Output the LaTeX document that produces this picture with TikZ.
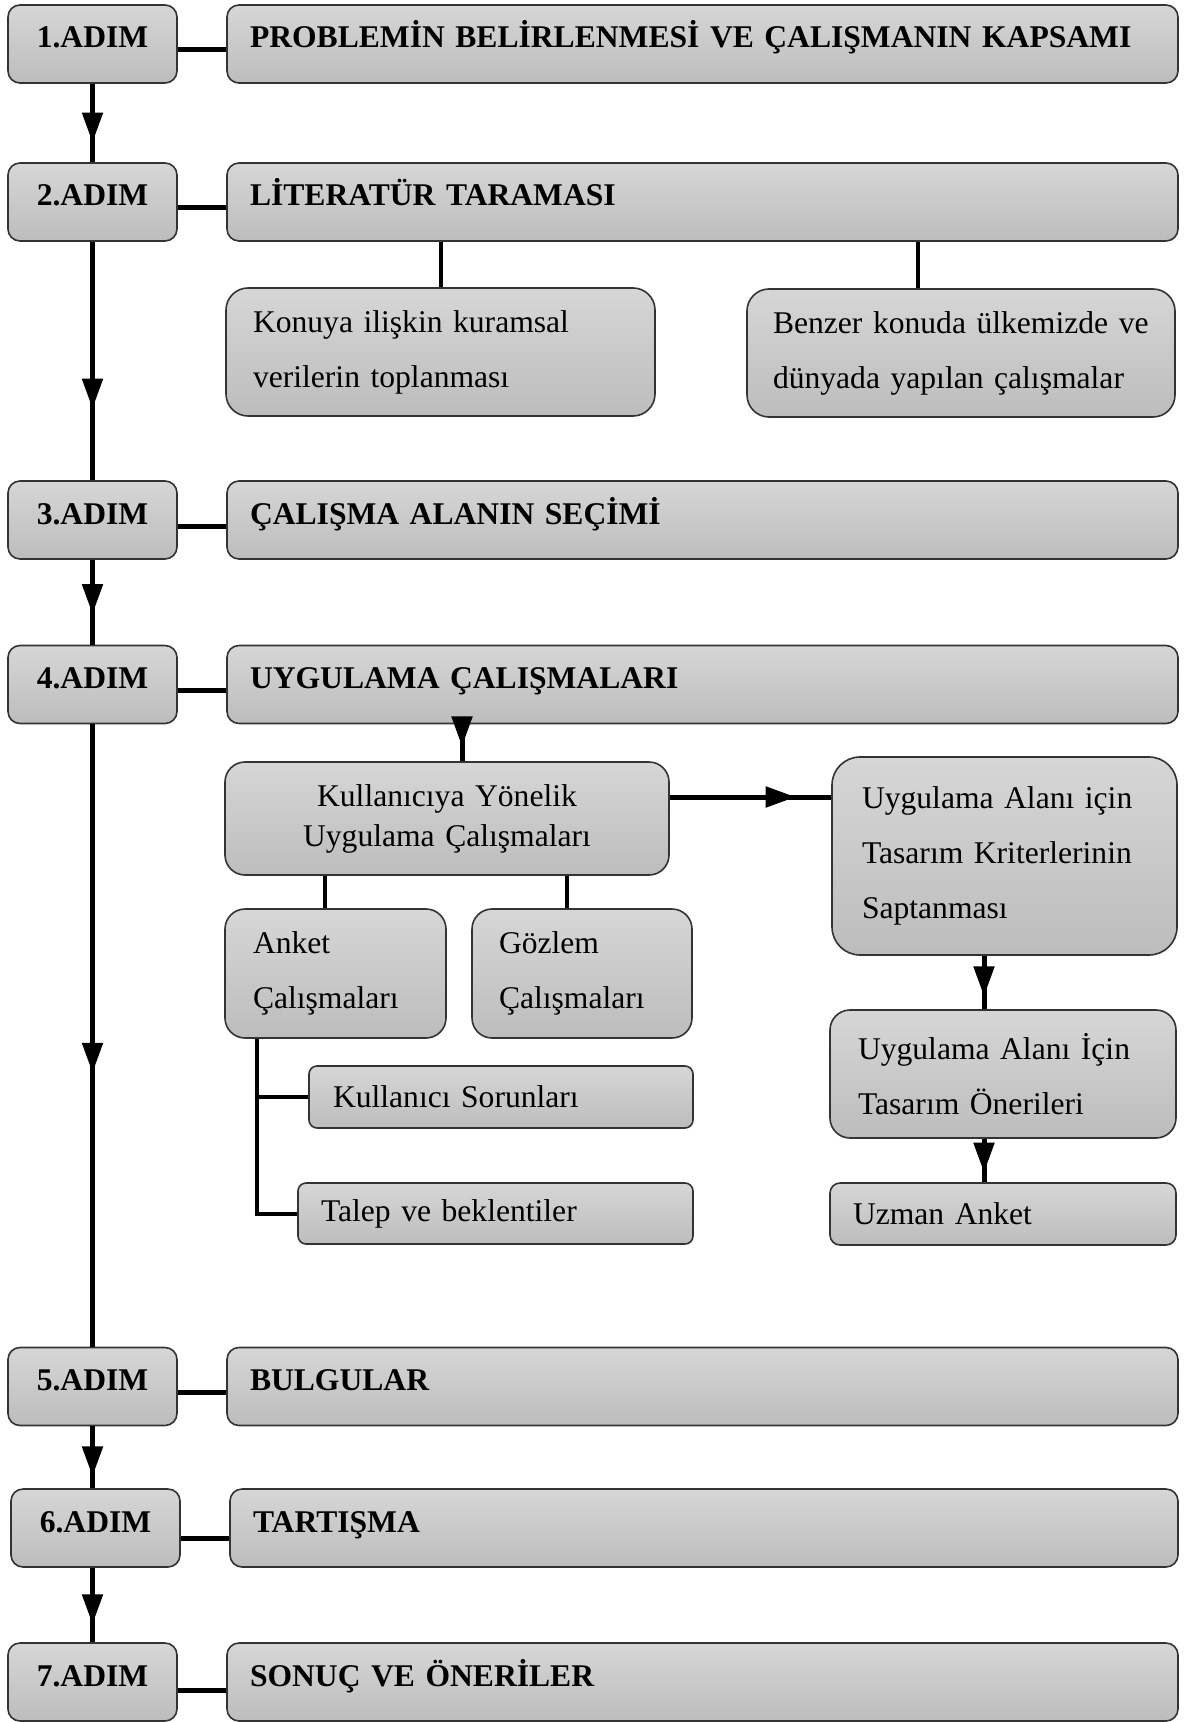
\documentclass[tikz,border=0pt]{standalone}
\usepackage{fontspec}
\setmainfont{Liberation Serif}
\usetikzlibrary{arrows.meta,decorations.markings}

\begin{document}
\begin{tikzpicture}[x=0.5pt, y=-0.5pt,
  every node/.style={font=\fontsize{15.8}{27.5}\selectfont},
  box/.style={draw=black!80, line width=.8pt, top color=gray!32, bottom color=gray!52},
  stepbox/.style={box, rounded corners=6pt, minimum width=84.5pt, minimum height=39pt, font=\fontsize{15.8}{19}\selectfont\bfseries, text height=10pt, text depth=6pt},
  titlebox/.style={stepbox, align=left, inner xsep=11.5pt, text width=452.5pt},
  subbox/.style={box, align=left, inner xsep=13.5pt},
  link/.style={line width=2pt},
  flow/.style={line width=2.5pt, postaction={decorate}, decoration={markings, mark=at position #1 with {\arrow{Triangle[length=15pt, width=10pt]}}}},
  flow/.default=0.7
]
  \useasboundingbox (0,0) rectangle (1184,1722);

  \node[stepbox] (s1) at (92.5,44) {1.ADIM};
  \node[stepbox] (s2) at (92.5,202) {2.ADIM};
  \node[stepbox] (s3) at (92.5,520) {3.ADIM};
  \node[stepbox] (s4) at (92.5,684.5) {4.ADIM};
  \node[stepbox] (s5) at (92.5,1386.5) {5.ADIM};
  \node[stepbox] (s6) at (95.5,1528) {6.ADIM};
  \node[stepbox] (s7) at (92.5,1682) {7.ADIM};

  \node[titlebox] (t1) at (702.5,44) {PROBLEMİN BELİRLENMESİ VE ÇALIŞMANIN KAPSAMI};
  \node[titlebox] (t2) at (702.5,202) {LİTERATÜR TARAMASI};
  \node[titlebox] (t3) at (702.5,520) {ÇALIŞMA ALANIN SEÇİMİ};
  \node[titlebox] (t4) at (702.5,684.5) {UYGULAMA ÇALIŞMALARI};
  \node[titlebox] (t5) at (702.5,1386.5) {BULGULAR};
  \node[titlebox, text width=451pt] (t6) at (704,1528) {TARTIŞMA};
  \node[titlebox] (t7) at (702.5,1682) {SONUÇ VE ÖNERİLER};

  \node[subbox, rounded corners=11pt, text width=187.5pt, minimum height=64pt] (theory) at (440.5,352) {Konuya ilişkin kuramsal\\verilerin toplanması};
  \node[subbox, rounded corners=11pt, inner xsep=13pt, text width=188pt, minimum height=64pt] (studies) at (961,353) {Benzer konuda ülkemizde ve\\dünyada yapılan çalışmalar};

  \node[subbox, align=center, rounded corners=10pt, text width=195pt, minimum height=56.5pt, font=\fontsize{15.8}{20}\selectfont] (app) at (447,818.5) {Kullanıcıya Yönelik\\Uygulama Çalışmaları};
  \node[subbox, rounded corners=14pt, inner xsep=15pt, text width=142.5pt, minimum height=99pt] (crit) at (1004.5,856) {Uygulama Alanı için\\Tasarım Kriterlerinin\\Saptanması};
  \node[subbox, rounded corners=10pt, inner xsep=14pt, text width=82.5pt, minimum height=64.5pt] (survey) at (335.5,973.5) {Anket\\Çalışmaları};
  \node[subbox, rounded corners=10pt, text width=83pt, minimum height=64.5pt] (observe) at (582,973.5) {Gözlem\\Çalışmaları};
  \node[subbox, rounded corners=4pt, inner xsep=12pt, text width=168pt, minimum height=31pt] (problems) at (501,1097) {Kullanıcı Sorunları};
  \node[subbox, rounded corners=4pt, inner xsep=11.5pt, text width=174.5pt, minimum height=30.5pt] (demands) at (495.5,1213.5) {Talep ve beklentiler};
  \node[subbox, rounded corners=10pt, inner xsep=14pt, text width=145pt, minimum height=64pt] (design) at (1003,1074) {Uygulama Alanı İçin\\Tasarım Önerileri};
  \node[subbox, rounded corners=5pt, inner xsep=11.5pt, text width=150pt, minimum height=31pt] (expert) at (1003,1214) {Uzman Anket};

  \coordinate (studiesin) at ([xshift=-21.5pt]studies.north);
  \coordinate (appin) at ([xshift=7.5pt]app.north);
  \coordinate (appout) at ([yshift=10.75pt]app.east);
  \coordinate (surveyin) at ([xshift=-5.25pt]survey.north);
  \coordinate (observein) at ([xshift=-7.5pt]observe.north);
  \coordinate (surveyout) at ([xshift=-39.25pt]survey.south);
  \coordinate (critout) at ([xshift=-10.25pt]crit.south);

  \draw[link, line width=2.5pt] ([yshift=-3pt]s1.east) -- ([yshift=-3pt]t1.west);
  \draw[link, line width=2.5pt] ([yshift=-3pt]s2.east) -- ([yshift=-3pt]t2.west);
  \draw[link, line width=2.5pt] ([yshift=-3pt]s3.east) -- ([yshift=-3pt]t3.west);
  \draw[link, line width=2.5pt] ([yshift=-3pt]s4.east) -- ([yshift=-3pt]t4.west);
  \draw[link, line width=2.5pt] ([yshift=-3pt]s5.east) -- ([yshift=-3pt]t5.west);
  \draw[link, line width=2.5pt] ([yshift=-5pt]s6.east) -- ([yshift=-5pt]t6.west);
  \draw[link, line width=2.5pt] ([yshift=-4pt]s7.east) -- ([yshift=-4pt]t7.west);

  \draw[flow=.75] (s1) -- (s2);
  \draw[flow=.7] (s2) -- (s3);
  \draw[flow=.64] (s3) -- (s4);
  \draw[flow=.56] (s4) -- (s5);
  \draw[flow=.81] (s5) -- (s5 |- s6.north);
  \draw[flow=.76] (s5 |- s6.south) -- (s5 |- s7.north);

  \draw[link] (theory) -- (theory |- t2.south);
  \draw[link] (studiesin) -- (studiesin |- t2.south);
  \draw[flow=.6] (appin |- t4.south) -- (appin);
  \draw[flow=.78] (appout) -- (appout -| crit.west);
  \draw[link] (surveyin) -- (surveyin |- app.south);
  \draw[link] (observein) -- (observein |- app.south);
  \draw[link] (surveyout) |- (problems.west);
  \draw[link] (surveyout) |- (demands.west);
  \draw[flow=.76] (critout) -- (critout |- design.north);
  \draw[flow=.78] (critout |- design.south) -- (critout |- expert.north);
\end{tikzpicture}
\end{document}
